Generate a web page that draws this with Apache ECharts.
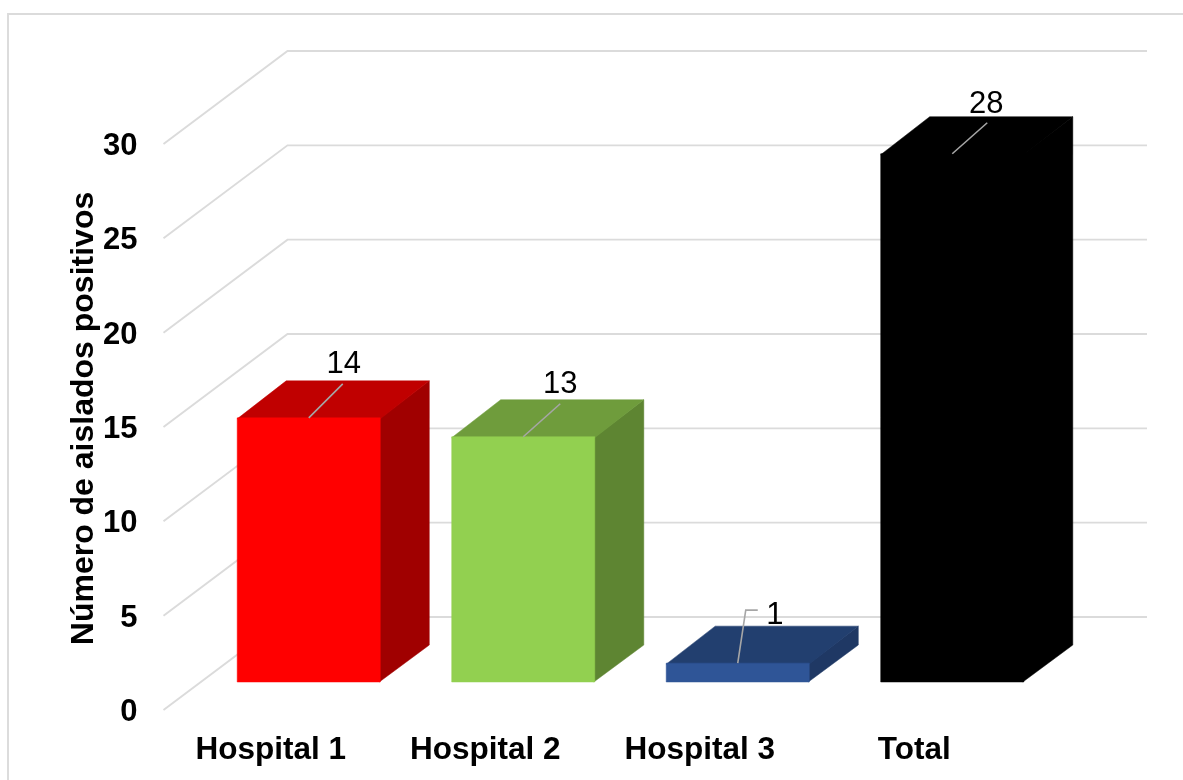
<!DOCTYPE html>
<html lang="es">
<head>
<meta charset="utf-8">
<title>Número de aislados positivos</title>
<style>
html,body{margin:0;padding:0;background:#fff}
#chart{width:1183px;height:780px}
</style>
<script src="https://cdn.jsdelivr.net/npm/echarts@6/dist/echarts.min.js"></script>
</head>
<body>
<div id="chart"></div>
<script>
// Isolates per hospital and overall total
const categories = ['Hospital 1', 'Hospital 2', 'Hospital 3', 'Total'];
const isolates = [14, 13, 1, 28];
const yTicks = [0, 5, 10, 15, 20, 25, 30];
const yTitle = 'Número de aislados positivos';

// Face colours of each box: front, top, side
const frontColors = ['#ff0000', '#92d050', '#2f5597', '#000000'];
const topColors = ['#c00000', '#6f9c3c', '#223f6f', '#000000'];
const sideColors = ['#a00000', '#5e8532', '#1f3864', '#000000'];

// Oblique projection: axis plane -> back wall, axis plane -> box front, box front -> box back
const WALL = [124, -93];
const BOX_FRONT = [38, -28];
const BOX_DEPTH = [49, -37];
const WALL_EXTRA = 1.5;
const GRID_COLOR = '#dbdbdb';
const FONT = '"Liberation Sans", Arial, sans-serif';

// Leader line bends and label anchor, relative to the middle of each box's front top edge
const leaders = [
  {points: [[0, 0], [34, -34]], label: [35, -53]},
  {points: [[0, 0], [37, -33]], label: [37, -52]},
  {points: [[0, 0], [8, -53], [20, -53]], label: [37, -48]},
  {points: [[0, 0], [35, -31]], label: [34, -49]}
];

function renderWall(params, api) {
  const p = api.coord([0, api.value(1)]);
  const left = params.coordSys.x;
  const right = left + params.coordSys.width + WALL[0] + WALL_EXTRA;
  return {
    type: 'polyline',
    shape: {points: [[left, p[1]], [left + WALL[0], p[1] + WALL[1]], [right, p[1] + WALL[1]]]},
    style: {fill: null, stroke: GRID_COLOR, lineWidth: 1.9}
  };
}

function renderBox(params, api) {
  const i = params.dataIndex;
  const top = api.coord([i, api.value(1)]);
  const base = api.coord([i, 0]);
  const half = api.size([1, 0])[0] * 0.667 / 2;
  const xL = top[0] + BOX_FRONT[0] - half;
  const xR = top[0] + BOX_FRONT[0] + half;
  const yT = top[1] + BOX_FRONT[1];
  const yB = base[1] + BOX_FRONT[1];
  const [dx, dy] = BOX_DEPTH;
  const face = (points, fill) => ({
    type: 'polygon',
    shape: {points},
    style: {fill, stroke: fill, lineWidth: 0.5}
  });
  const cx = (xL + xR) / 2;
  const lead = leaders[i];
  return {
    type: 'group',
    children: [
      // Side and top faces run slightly under the front face so no seam shows
      face([[xR - 1, yT + 1], [xR + dx, yT + dy], [xR + dx, yB + dy], [xR - 1, yB]], sideColors[i]),
      face([[xL, yT + 1], [xL + dx, yT + dy], [xR + dx, yT + dy], [xR, yT + 1]], topColors[i]),
      face([[xL, yT], [xR, yT], [xR, yB], [xL, yB]], frontColors[i]),
      {
        type: 'polyline',
        shape: {points: lead.points.map(q => [cx + q[0], yT + q[1]])},
        style: {fill: null, stroke: '#a6a6a6', lineWidth: 1.6}
      },
      {
        type: 'text',
        style: {
          text: String(api.value(1)),
          x: cx + lead.label[0],
          y: yT + lead.label[1],
          align: 'center',
          verticalAlign: 'middle',
          fill: '#000',
          font: '31px ' + FONT
        }
      }
    ]
  };
}

const chart = echarts.init(document.getElementById('chart'), null, {renderer: 'canvas'});
chart.setOption({
  animation: false,
  backgroundColor: '#ffffff',
  grid: {left: 163.5, top: 144, width: 858, height: 566, containLabel: false},
  xAxis: {
    type: 'category',
    data: categories,
    axisLine: {show: false},
    axisTick: {show: false},
    axisLabel: {
      interval: 0,
      margin: 24.5,
      color: '#000',
      fontFamily: FONT,
      fontWeight: 'bold',
      fontSize: 31.5
    }
  },
  yAxis: {
    type: 'value',
    min: yTicks[0],
    max: yTicks[yTicks.length - 1],
    interval: 5,
    axisLine: {show: false},
    axisTick: {show: false},
    splitLine: {show: false},
    axisLabel: {
      margin: 26,
      verticalAlign: 'top',
      lineHeight: 5,
      color: '#000',
      fontFamily: FONT,
      fontWeight: 'bold',
      fontSize: 31
    }
  },
  graphic: [
    {
      type: 'polyline',
      silent: true,
      shape: {points: [[8, 780], [8, 14], [1183, 14]]},
      style: {fill: null, stroke: GRID_COLOR, lineWidth: 1.9}
    },
    {
      type: 'text',
      x: 84,
      y: 418.5,
      rotation: Math.PI / 2,
      style: {
        text: yTitle,
        align: 'center',
        verticalAlign: 'middle',
        fill: '#000',
        font: 'bold 32px ' + FONT
      }
    }
  ],
  series: [
    {
      type: 'custom',
      clip: false,
      z: 1,
      silent: true,
      renderItem: renderWall,
      encode: {x: 0, y: 1},
      data: yTicks.map(v => [0, v])
    },
    {
      type: 'custom',
      clip: false,
      z: 2,
      silent: true,
      renderItem: renderBox,
      encode: {x: 0, y: 1},
      data: isolates.map((v, i) => [i, v])
    }
  ]
});
</script>
</body>
</html>
